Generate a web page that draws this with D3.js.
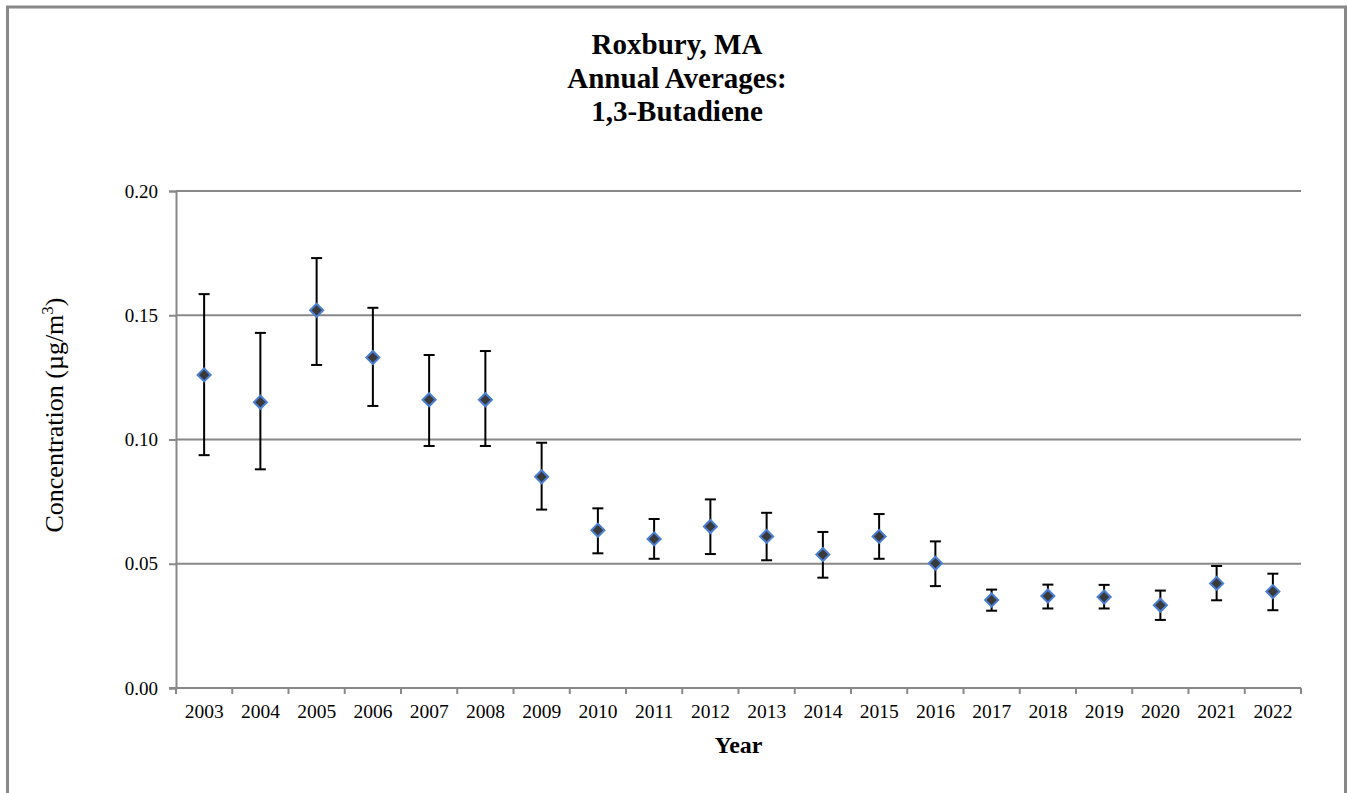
<!DOCTYPE html>
<html>
<head>
<meta charset="utf-8">
<script src="https://cdn.jsdelivr.net/npm/d3@7"></script>
<style>
  html, body { margin: 0; padding: 0; background: #fff; }
  svg { display: block; }
  text { font-family: "Liberation Serif", "Times New Roman", serif; fill: #000; }
</style>
</head>
<body>
<svg id="chart" width="1348" height="793"></svg>
<script>
// Annual averages of 1,3-butadiene with 95% confidence bounds
const years = ["2003","2004","2005","2006","2007","2008","2009","2010","2011","2012",
               "2013","2014","2015","2016","2017","2018","2019","2020","2021","2022"];
const averages = [0.126,0.115,0.152,0.133,0.116,0.116,0.085,0.0635,0.060,0.065,
                  0.061,0.0537,0.061,0.0502,0.0354,0.037,0.0366,0.0333,0.0421,0.0388];
const upper    = [0.1585,0.1429,0.173,0.153,0.134,0.1356,0.0987,0.0723,0.068,0.0759,
                  0.0705,0.0628,0.070,0.059,0.0396,0.0416,0.0415,0.0392,0.0491,0.046];
const lower    = [0.0937,0.088,0.130,0.1135,0.0974,0.0974,0.0718,0.0542,0.052,0.0539,
                  0.0514,0.0444,0.052,0.041,0.0311,0.032,0.032,0.0274,0.0353,0.0313];
const yTicks = [0, 0.05, 0.10, 0.15, 0.20];

const svg = d3.select("#chart");
const margin = { left: 176, right: 1301, top: 191, bottom: 688 };

// Outer frame
svg.append("rect")
  .attr("x", 7.5).attr("y", 7).attr("width", 1338).attr("height", 820)
  .attr("fill", "none").attr("stroke", "#888").attr("stroke-width", 3);

const x = d3.scaleBand().domain(years).range([margin.left, margin.right]);
const y = d3.scaleLinear().domain([0, 0.20]).range([margin.bottom, margin.top]);

// Horizontal gridlines
svg.append("g").selectAll("line")
  .data(yTicks.filter(d => d > 0))
  .join("line")
  .attr("x1", margin.left).attr("x2", margin.right)
  .attr("y1", d => y(d)).attr("y2", d => y(d))
  .attr("stroke", "#888").attr("stroke-width", 2);

// Y axis
const yAxis = svg.append("g")
  .attr("transform", `translate(${margin.left},0)`)
  .call(d3.axisLeft(y).tickValues(yTicks).tickFormat(d3.format(".2f")).tickSize(7).tickPadding(11));
yAxis.select(".domain").attr("stroke", "#888").attr("stroke-width", 2);
yAxis.selectAll(".tick line").attr("stroke", "#888").attr("stroke-width", 2);
yAxis.selectAll(".tick text")
  .style("font-family", "'Liberation Serif', serif").style("font-size", "19px").attr("fill", "#000");

// X axis with tick marks at the band boundaries
const xAxisG = svg.append("g").attr("transform", `translate(0,${margin.bottom})`);
xAxisG.append("line")
  .attr("x1", margin.left - 7).attr("x2", margin.right)
  .attr("y1", 0).attr("y2", 0)
  .attr("stroke", "#888").attr("stroke-width", 2);
const bounds = years.map(d => x(d)).concat([x(years[years.length - 1]) + x.bandwidth()]);
xAxisG.selectAll("line.tk").data(bounds).join("line")
  .attr("class", "tk")
  .attr("x1", d => d).attr("x2", d => d)
  .attr("y1", 0).attr("y2", 6)
  .attr("stroke", "#888").attr("stroke-width", 2);
xAxisG.selectAll("text").data(years).join("text")
  .attr("x", d => x(d) + x.bandwidth() / 2)
  .attr("y", 30)
  .attr("text-anchor", "middle")
  .style("font-size", "19.5px")
  .text(d => d);

// Error bars
const cx = d => x(d) + x.bandwidth() / 2;
const capW = 5.5;
const bars = svg.append("g").attr("stroke", "#000").attr("stroke-width", 2);
years.forEach((yr, i) => {
  bars.append("line").attr("x1", cx(yr)).attr("x2", cx(yr))
    .attr("y1", y(upper[i])).attr("y2", y(lower[i]));
  bars.append("line").attr("x1", cx(yr) - capW).attr("x2", cx(yr) + capW)
    .attr("y1", y(upper[i])).attr("y2", y(upper[i]));
  bars.append("line").attr("x1", cx(yr) - capW).attr("x2", cx(yr) + capW)
    .attr("y1", y(lower[i])).attr("y2", y(lower[i]));
});

// Diamond markers
const diamond = d3.symbol().type(d3.symbolSquare).size(85);
svg.append("g").selectAll("path")
  .data(years)
  .join("path")
  .attr("d", diamond)
  .attr("transform", (d, i) => `translate(${cx(d)},${y(averages[i])}) rotate(45)`)
  .attr("fill", "#3a3a3a")
  .attr("stroke", "#4a7fd4")
  .attr("stroke-width", 2);

// Titles
const title = ["Roxbury, MA", "Annual Averages:", "1,3-Butadiene"];
svg.append("g").selectAll("text").data(title).join("text")
  .attr("x", 677).attr("y", (d, i) => 54 + i * 33.5)
  .attr("text-anchor", "middle")
  .style("font-size", "29px").style("font-weight", "bold")
  .text(d => d);

svg.append("text")
  .attr("x", 738.5).attr("y", 753)
  .attr("text-anchor", "middle")
  .style("font-size", "24px").style("font-weight", "bold")
  .text("Year");

const yt = svg.append("text")
  .attr("transform", "translate(63,415) rotate(-90)")
  .attr("text-anchor", "middle")
  .style("font-size", "26px");
yt.append("tspan").text("Concentration (µg/m");
yt.append("tspan").attr("dy", -10).style("font-size", "17px").text("3");
yt.append("tspan").attr("dy", 10).text(")");
</script>
</body>
</html>
